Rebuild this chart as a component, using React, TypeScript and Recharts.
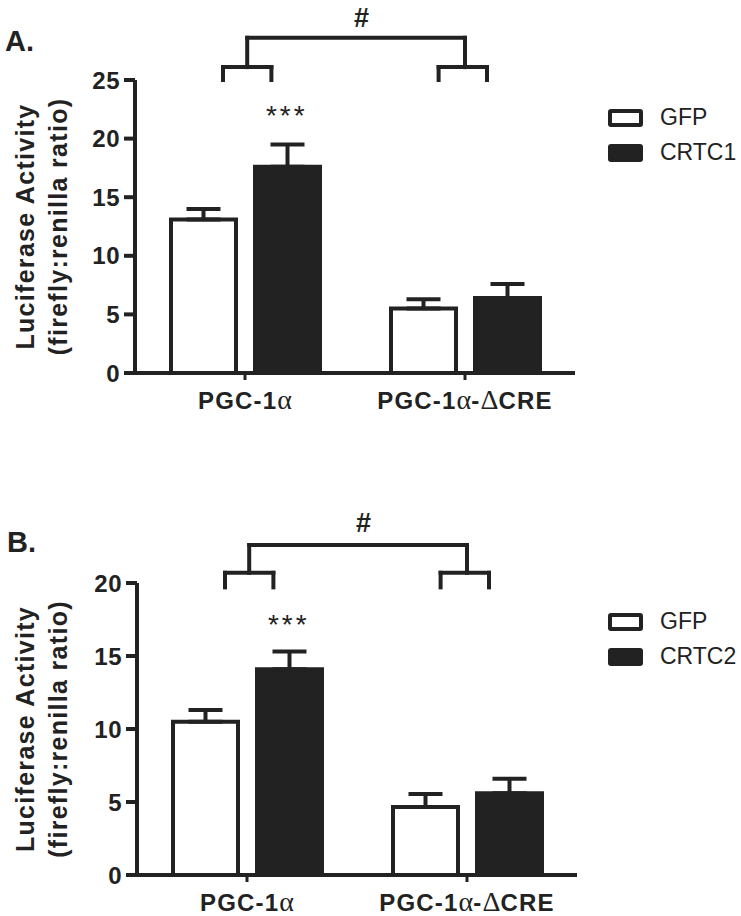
import React from 'react'
import { BarChart, Bar, XAxis, YAxis, ErrorBar, ReferenceLine, ReferenceDot, Legend } from 'recharts'

const FONT = '"Liberation Sans", Arial, sans-serif'
const INK = '#222'

const categories = ['PGC-1α', 'PGC-1α-ΔCRE']
const groupPos = [0.5, 1.5]

// panel A
const gfpA = [13.1, 5.5]
const gfpAErr = [0.9, 0.8]
const crtc1 = [17.6, 6.4]
const crtc1Err = [1.9, 1.2]
const ticksA = [0, 5, 10, 15, 20, 25]

// panel B
const gfpB = [10.5, 4.65]
const gfpBErr = [0.8, 0.9]
const crtc2 = [14.1, 5.6]
const crtc2Err = [1.2, 1.0]
const ticksB = [0, 5, 10, 15, 20]

// bracket segments in (group axis, value) units
const bracketSegments = (top: number, mid: number, low: number) => [
  [[0.51, top], [1.5, top]],
  [[0.51, top], [0.51, mid]],
  [[1.5, top], [1.5, mid]],
  [[0.4, mid], [0.62, mid]],
  [[1.38, mid], [1.6, mid]],
  [[0.4, mid], [0.4, low]],
  [[0.62, mid], [0.62, low]],
  [[1.38, mid], [1.38, low]],
  [[1.6, mid], [1.6, low]],
]

const CatTick = (props: any) => {
  const { x, y, payload } = props
  const parts = String(payload.value).split(/([αΔ])/).filter(Boolean)
  return (
    <text x={x} y={y} dy={25} textAnchor="middle" fill={INK} fontFamily={FONT} fontWeight="bold" fontSize={24} letterSpacing={1.2}>
      {parts.map((p, i) =>
        /[αΔ]/.test(p) ? (
          <tspan key={i} fontFamily='"Liberation Serif", serif' fontWeight="normal" fontSize={28} letterSpacing={0}>
            {p}
          </tspan>
        ) : (
          <tspan key={i}>{p}</tspan>
        )
      )}
    </text>
  )
}

const yTitle = (props: any) => {
  const { viewBox } = props
  const cy = viewBox.y + viewBox.height / 2
  const common = { fill: INK, fontFamily: FONT, fontWeight: 'bold' as const, fontSize: 25, letterSpacing: 1.3, textAnchor: 'middle' as const }
  return (
    <g>
      <text x={34} y={cy} transform={`rotate(-90, 34, ${cy})`} {...common}>Luciferase Activity</text>
      <text x={67} y={cy} transform={`rotate(-90, 67, ${cy})`} {...common}>(firefly:renilla ratio)</text>
    </g>
  )
}

const markText = (text: string, size: number, weight: string, spacing: number) => (p: any) => {
  const { viewBox } = p
  const cx = viewBox.x + viewBox.width / 2
  const cy = viewBox.y + viewBox.height / 2
  return (
    <text x={cx} y={cy} textAnchor="middle" fill={INK} fontFamily={FONT} fontSize={size} fontWeight={weight} letterSpacing={spacing}>
      {text}
    </text>
  )
}

const legendContent = (props: any) => (
  <div style={{ fontFamily: FONT, fontSize: 23, color: INK }}>
    {props.payload.map((e: any) => (
      <div key={e.value} style={{ display: 'flex', alignItems: 'center', height: 35 }}>
        <div style={{ width: 27, height: 10, border: `4px solid ${INK}`, borderRadius: 3, background: e.color }} />
        <span style={{ marginLeft: 17 }}>{e.value}</span>
      </div>
    ))}
  </div>
)

function Panel(props: any) {
  const { top, height, plotTop, axisW, xAxisH, yMax, ticks, gfp, gfpErr, crtc, crtcErr, crtcName, br, legendTop } = props
  const data = categories.map((name, i) => ({
    name,
    pos: groupPos[i],
    gfp: gfp[i],
    gfpErr: [0, gfpErr[i]],
    crtc: crtc[i],
    crtcErr: [0, crtcErr[i]],
  }))
  return (
    <div style={{ position: 'absolute', left: 0, top }}>
      <BarChart
        width={741}
        height={height}
        data={data}
        margin={{ top: plotTop, right: 741 - axisW - 440, left: 0, bottom: 0 }}
        barSize={65}
        barGap={19}
      >
        <XAxis
          dataKey="name"
          height={xAxisH}
          interval={0}
          tickSize={7}
          tickMargin={4}
          axisLine={{ stroke: INK, strokeWidth: 4 }}
          tickLine={{ stroke: INK, strokeWidth: 3 }}
          tick={<CatTick />}
        />
        <XAxis xAxisId="n" dataKey="pos" type="number" domain={[0, 2]} hide allowDataOverflow />
        <YAxis
          width={axisW}
          domain={[0, yMax]}
          ticks={ticks}
          interval={0}
          allowDataOverflow
          tickSize={11}
          tickMargin={4}
          axisLine={{ stroke: INK, strokeWidth: 4 }}
          tickLine={{ stroke: INK, strokeWidth: 4 }}
          tick={{ fill: INK, fontSize: 24, fontWeight: 'bold', fontFamily: FONT, letterSpacing: 0.5 }}
          label={{ content: yTitle }}
        />
        <Legend
          layout="vertical"
          align="center"
          verticalAlign="middle"
          itemSorter={(item: any) => (item.dataKey === 'gfp' ? 0 : 1)}
          wrapperStyle={{ left: 608, top: legendTop, width: 'auto', height: 'auto' }}
          content={legendContent}
        />
        <Bar dataKey="gfp" name="GFP" fill="#ffffff" stroke={INK} strokeWidth={4} isAnimationActive={false}>
          <ErrorBar dataKey="gfpErr" direction="y" width={17} stroke={INK} strokeWidth={4} />
        </Bar>
        <Bar dataKey="crtc" name={crtcName} fill={INK} stroke={INK} strokeWidth={4} isAnimationActive={false}>
          <ErrorBar dataKey="crtcErr" direction="y" width={17} stroke={INK} strokeWidth={4} />
        </Bar>
        {bracketSegments(br.top, br.mid, br.low).map((s, i) => (
          <ReferenceLine
            key={i}
            xAxisId="n"
            segment={[{ x: s[0][0], y: s[0][1] }, { x: s[1][0], y: s[1][1] }]}
            ifOverflow="visible"
            stroke={INK}
            strokeWidth={4}
            strokeLinecap="square"
          />
        ))}
        <ReferenceDot
          xAxisId="n"
          x={1.03}
          y={br.hash}
          r={1}
          fill="none"
          stroke="none"
          ifOverflow="visible"
          label={{ content: markText('#', 27, 'bold', 0) }}
        />
        <ReferenceDot
          xAxisId="n"
          x={0.69}
          y={br.stars}
          r={1}
          fill="none"
          stroke="none"
          ifOverflow="visible"
          label={{ content: markText('***', 28, 'normal', 3) }}
        />
      </BarChart>
    </div>
  )
}

const letterStyle: React.CSSProperties = {
  position: 'absolute',
  fontFamily: FONT,
  fontWeight: 'bold',
  fontSize: 29,
  lineHeight: '29px',
  color: INK,
}

export default function App() {
  return (
    <div style={{ position: 'absolute', left: 0, top: 0, width: 741, height: 916, background: '#fff', overflow: 'hidden' }}>
      <div style={{ ...letterStyle, left: 5, top: 27 }}>A.</div>
      <div style={{ ...letterStyle, left: 7, top: 528 }}>B.</div>
      <Panel
        top={0}
        height={420}
        plotTop={80}
        axisW={135}
        xAxisH={47}
        yMax={25}
        ticks={ticksA}
        gfp={gfpA}
        gfpErr={gfpAErr}
        crtc={crtc1}
        crtcErr={crtc1Err}
        crtcName="CRTC1"
        br={{ top: 28.6, mid: 26.1, low: 25.0, hash: 29.5, stars: 21.2 }}
        legendTop={100}
      />
      <Panel
        top={460}
        height={456}
        plotTop={123}
        axisW={137}
        xAxisH={41}
        yMax={20}
        ticks={ticksB}
        gfp={gfpB}
        gfpErr={gfpBErr}
        crtc={crtc2}
        crtcErr={crtc2Err}
        crtcName="CRTC2"
        br={{ top: 22.6, mid: 20.7, low: 19.7, hash: 23.5, stars: 16.5 }}
        legendTop={144}
      />
    </div>
  )
}
